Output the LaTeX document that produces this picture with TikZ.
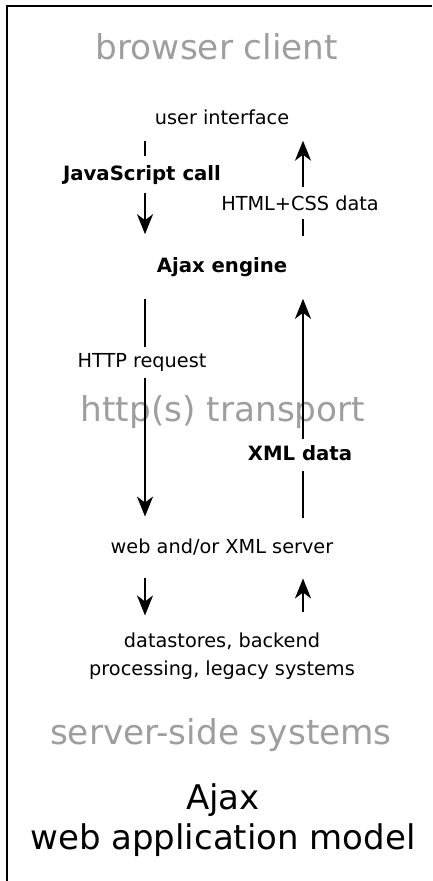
\documentclass[tikz,border=0pt]{standalone}
\usepackage{fontspec}
\setmainfont{DejaVu Sans}
\usetikzlibrary{arrows.meta,positioning}

\begin{document}
\begin{tikzpicture}[
  x=1pt,y=-1pt,
  txt/.style={inner sep=0pt, font=\fontsize{19.3}{28}\selectfont},
  btxt/.style={inner sep=0pt, font=\fontsize{19.7}{28}\selectfont\bfseries},
  zone/.style={inner sep=0pt, text=black!38, font=\fontsize{34.3}{40}\selectfont},
  heading/.style={inner sep=0pt, align=center, font=\fontsize{34}{40}\selectfont},
  arr/.style={-{Stealth[length=20pt,width=16pt,inset=6pt]}, line width=2.2pt},
  link/.style={line width=2.2pt},
  frame/.style={line width=2pt}
]
\useasboundingbox (0,0) rectangle (432,881);
\draw[frame] (432,6) -- (7,6) -- (7,881);
% layer names
\node[zone] (browser) at (217,47) {browser client};
\node[zone] (transport) at (223,412) {http(s) transport};
\node[zone] (serverside) at (221,735) {server-side systems};
% boxes and labels
\node[txt] (ui) at (222,117) {user interface};
\node[btxt] (js) at (142,175) {JavaScript call};
\node[txt] (html) at (300,203) {HTML+CSS data};
\node[btxt] (engine) at (222,267) {Ajax engine};
\node[txt] (httpreq) at (142,362) {HTTP request};
\node[btxt] (xml) at (300,453) {XML data};
\node[txt] (server) at (222,547) {web and/or XML server};
\node[txt, align=center] (store) at (222,656) {datastores, backend\\processing, legacy systems};
\node[heading] (title) at (223,820) {Ajax\\web application model};
\coordinate (lcol) at (145,0);
\coordinate (rcol) at (303,0);
% downward column
\draw[link, shorten <=16pt, shorten >=9pt] (ui.south -| lcol) -- (js.north -| lcol);
\draw[arr, shorten <=8pt, shorten >=23pt] (js.south -| lcol) -- (engine.north -| lcol);
\draw[link, shorten <=22pt, shorten >=6pt] (engine.south -| lcol) -- (httpreq.north -| lcol);
\draw[arr, shorten <=7pt, shorten >=22pt] (httpreq.south -| lcol) -- (server.north -| lcol);
\draw[arr, shorten <=23pt, shorten >=17pt] (server.south -| lcol) -- (store.north -| lcol);
% upward column
\draw[arr, shorten <=8pt, shorten >=16pt] (html.north -| rcol) -- (ui.south -| rcol);
\draw[link, shorten <=21pt, shorten >=8pt] (engine.north -| rcol) -- (html.south -| rcol);
\draw[arr, shorten <=6pt, shorten >=22pt] (xml.north -| rcol) -- (engine.south -| rcol);
\draw[link, shorten <=21pt, shorten >=10pt] (server.north -| rcol) -- (xml.south -| rcol);
\draw[arr, shorten <=20pt, shorten >=23pt] (store.north -| rcol) -- (server.south -| rcol);
\end{tikzpicture}
\end{document}
